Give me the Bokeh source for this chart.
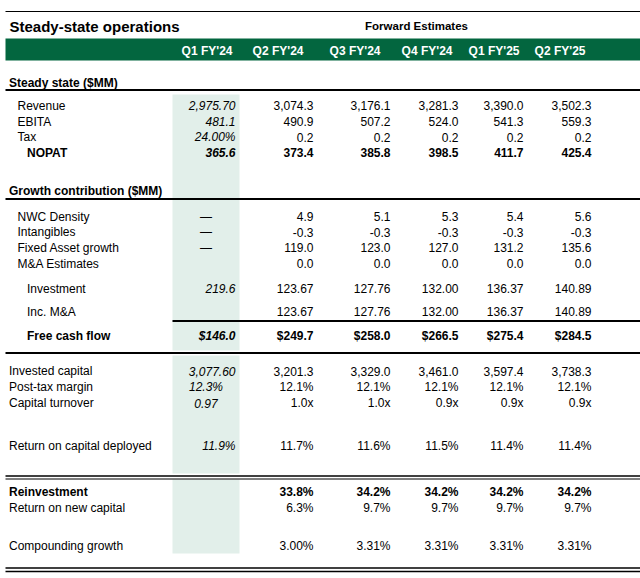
from bokeh.plotting import figure
from bokeh.models import ColumnDataSource, Range1d
from bokeh.core.properties import value
from bokeh.embed import file_html
from bokeh.resources import INLINE

# ---------------- data ----------------
title = "Steady-state operations"
group_title = "Forward Estimates"
quarters = ["Q1 FY'24", "Q2 FY'24", "Q3 FY'24", "Q4 FY'24", "Q1 FY'25", "Q2 FY'25"]
sections = ["Steady state ($MM)", "Growth contribution ($MM)"]
row_labels = ["Revenue", "EBITA", "Tax", "NOPAT",
              "NWC Density", "Intangibles", "Fixed Asset growth", "M&A Estimates",
              "Investment", "Inc. M&A", "Free cash flow",
              "Invested capital", "Post-tax margin", "Capital turnover",
              "Return on capital deployed",
              "Reinvestment", "Return on new capital", "Compounding growth"]
q1_fy24 = ["2,975.70", "481.1", "24.00%", "365.6", "\u2014", "\u2014", "\u2014", "",
           "219.6", "", "$146.0", "3,077.60", "12.3%", "0.97", "11.9%", "", "", ""]
q2_fy24 = ["3,074.3", "490.9", "0.2", "373.4", "4.9", "-0.3", "119.0", "0.0",
           "123.67", "123.67", "$249.7", "3,201.3", "12.1%", "1.0x", "11.7%", "33.8%", "6.3%", "3.00%"]
q3_fy24 = ["3,176.1", "507.2", "0.2", "385.8", "5.1", "-0.3", "123.0", "0.0",
           "127.76", "127.76", "$258.0", "3,329.0", "12.1%", "1.0x", "11.6%", "34.2%", "9.7%", "3.31%"]
q4_fy24 = ["3,281.3", "524.0", "0.2", "398.5", "5.3", "-0.3", "127.0", "0.0",
           "132.00", "132.00", "$266.5", "3,461.0", "12.1%", "0.9x", "11.5%", "34.2%", "9.7%", "3.31%"]
q1_fy25 = ["3,390.0", "541.3", "0.2", "411.7", "5.4", "-0.3", "131.2", "0.0",
           "136.37", "136.37", "$275.4", "3,597.4", "12.1%", "0.9x", "11.4%", "34.2%", "9.7%", "3.31%"]
q2_fy25 = ["3,502.3", "559.3", "0.2", "425.4", "5.6", "-0.3", "135.6", "0.0",
           "140.89", "140.89", "$284.5", "3,738.3", "12.1%", "0.9x", "11.4%", "34.2%", "9.7%", "3.31%"]
columns = [q1_fy24, q2_fy24, q3_fy24, q4_fy24, q1_fy25, q2_fy25]

# ---------------- layout (pixel coords of the picture) ----------------
row_y = [105, 121, 136.5, 152, 216, 231.5, 247, 263, 288, 311, 335.5,
         370.5, 386.5, 402.5, 445, 491.5, 507, 545.5]
row_x = [17, 17, 17, 26.5, 17, 17, 17, 17, 26.5, 26.5, 26.5,
         8.5, 8.5, 8.5, 8.5, 8.5, 8.5, 8.5]
bold_rows = {3, 10, 15}
centered_first = {4, 5, 6, 12, 13}
col_right = [235, 313, 390, 458, 523, 591]
head_right = [232, 303, 380, 452, 519, 585]
section_y = [82, 190]
FONT = "Liberation Sans"
GREEN = "#03663F"
SHADE = "#E2EFEA"
W, H = 640, 578

p = figure(width=W, height=H, output_backend="svg", toolbar_location=None,
           x_range=Range1d(0, W), y_range=Range1d(H, 0),
           min_border=0, min_border_left=0, min_border_right=0,
           min_border_top=0, min_border_bottom=0)
p.axis.visible = False
p.xgrid.visible = False
p.ygrid.visible = False
p.outline_line_color = None
p.background_fill_color = "white"
p.border_fill_color = "white"

# shaded first column
p.quad(left=[172, 172, 172], right=[239, 239, 239], top=[94, 355, 479], bottom=[350, 473, 553],
       fill_color=SHADE, line_color=None)
# green header band
p.quad(left=[5], right=[W], top=[38], bottom=[60], fill_color=GREEN, line_color=None)

# rules
seg = dict(x0=[5, 5, 5, 172, 5, 5, 5, 5, 5],
           x1=[W] * 9,
           y0=[11, 89.5, 198.5, 320.5, 352.5, 475.5, 478.5, 567.5, 571],
           w=[1.2, 2, 2, 2, 2, 1.6, 1.2, 1.4, 1.4])
seg["y1"] = seg["y0"]
p.segment(x0="x0", y0="y0", x1="x1", y1="y1", line_width="w", line_color="black",
          source=ColumnDataSource(seg))

# texts
tx, ty, tt, tsty, talign, tsize, tcol = [], [], [], [], [], [], []

def add(x, y, t, style="normal", align="left", size="12px", color="#000000"):
    tx.append(x); ty.append(y); tt.append(t); tsty.append(style)
    talign.append(align); tsize.append(size); tcol.append(color)

add(9, 26, title, "bold", "left", "15px")
add(416, 25, group_title, "bold", "center", "11.5px")
for q, xr in zip(quarters, head_right):
    add(xr, 50.5, q, "bold", "right", "12px", "white")
for s, y in zip(sections, section_y):
    add(8.5, y, s, "bold", "left", "12px")
for i, lab in enumerate(row_labels):
    add(row_x[i], row_y[i], lab, "bold" if i in bold_rows else "normal")
for c, col in enumerate(columns):
    for i, v in enumerate(col):
        if not v:
            continue
        bold = i in bold_rows
        if c == 0:
            style = "bold italic" if bold else "italic"
            if i in centered_first:
                add(205.5, row_y[i], v, style, "center")
            else:
                add(col_right[c], row_y[i], v, style, "right")
        else:
            add(col_right[c], row_y[i], v, "bold" if bold else "normal", "right")

src = ColumnDataSource(dict(x=tx, y=ty, t=tt, st=tsty, al=talign, sz=tsize, c=tcol))
p.text(x="x", y="y", text="t", source=src, text_font=value(FONT),
       text_font_style="st", text_align="al", text_font_size="sz",
       text_baseline="middle", text_color="c")

open("out.html", "w").write(file_html(p, INLINE))
